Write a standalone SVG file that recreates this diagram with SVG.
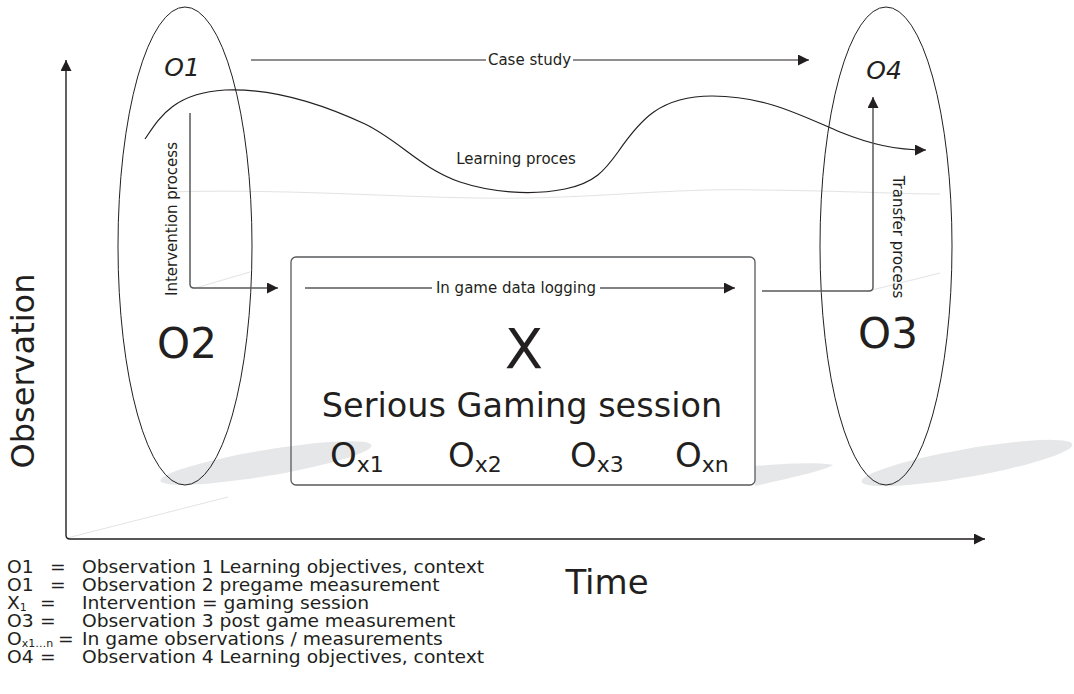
<svg xmlns="http://www.w3.org/2000/svg" width="1074" height="694" viewBox="0 0 1074 694">
<style>
text{font-family:"DejaVu Sans","Liberation Sans",sans-serif;fill:#231f20}
.lbl{font-size:15px}
.leg{font-size:17px}
.ell{fill:none;stroke:#231f20;stroke-width:1}
.shadow{fill:#e6e7e8}
.faint{fill:none;stroke:#e2e3e4;stroke-width:1}
.conn{fill:none;stroke:#231f20;stroke-width:1.2}
.gconn{fill:none;stroke:#58595b;stroke-width:1.5}
.axis{fill:none;stroke:#231f20;stroke-width:1.4}
</style>
<defs>
<marker id="ah" markerWidth="12" markerHeight="12" refX="11" refY="5.5" orient="auto-start-reverse" markerUnits="userSpaceOnUse"><path d="M0,0 L11,5.5 L0,11 Z" fill="#231f20"/></marker>
</defs>
<rect width="1074" height="694" fill="#fff"/>
<g id="shadows">
<ellipse class="shadow" cx="266" cy="463" rx="107" ry="13" transform="rotate(-9.5 266 463)"/>
<ellipse class="shadow" cx="967" cy="463" rx="107" ry="14" transform="rotate(-10 967 463)"/>
<path class="shadow" d="M755,466 C790,463 822,462 833,465 C826,470 790,478 755,486 Z"/>
<path class="faint" d="M67,538 L228,497"/>
<path class="faint" d="M192,289 L250,272"/>
<path class="faint" d="M868,291 L940,273"/>
<path class="faint" d="M167,192 C300,188 420,200 530,198 C620,196 680,188 760,190 C850,191 900,194 940,194"/>
</g>
<g id="axes">
<path class="axis" d="M66,60 L66,535 Q66,539 70,539 L985,539" marker-start="url(#ah)" marker-end="url(#ah)"/>
<text x="34" y="371" font-size="32" text-anchor="middle" transform="rotate(-90 34 371)">Observation</text>
<text x="607" y="594" font-size="34" text-anchor="middle">Time</text>
</g>
<g id="node-left">
<ellipse class="ell" cx="185" cy="246" rx="67" ry="239"/>
<text x="182" y="76" font-size="25" font-style="italic" text-anchor="middle">O1</text>
<text x="187" y="358" font-size="42" text-anchor="middle">O2</text>
</g>
<g id="node-right">
<ellipse class="ell" cx="886" cy="246" rx="66" ry="239"/>
<text x="884" y="79" font-size="25" font-style="italic" text-anchor="middle">O4</text>
<text x="888" y="348" font-size="42" text-anchor="middle">O3</text>
</g>
<g id="node-session">
<rect x="291" y="257" width="464" height="228" rx="5" fill="none" stroke="#58595b" stroke-width="1.3"/>
<text x="524" y="368" font-size="56" text-anchor="middle">X</text>
<text x="522" y="417" font-size="33.5" text-anchor="middle">Serious Gaming session</text>
<text x="330" y="467" font-size="34">O<tspan font-size="22" dy="5">x1</tspan></text>
<text x="448" y="467" font-size="34">O<tspan font-size="22" dy="5">x2</tspan></text>
<text x="570" y="467" font-size="34">O<tspan font-size="22" dy="5">x3</tspan></text>
<text x="675" y="467" font-size="34">O<tspan font-size="22" dy="5">xn</tspan></text>
</g>
<g id="connectors">
<path class="conn" d="M251,60 L486,60"/>
<path class="conn" d="M573,60 L809,60" marker-end="url(#ah)"/>
<text class="lbl" x="529.5" y="65" text-anchor="middle">Case study</text>
<path class="conn" d="M145,139 C158,120 172,93 225,90 C270,88 320,103 365,124 C400,141 420,168 460,182 C490,192 530,196 565,189 C595,183 605,170 618,152 C640,120 660,96 712,96 C765,96 800,115 840,132 C870,144 895,150 926,150" marker-end="url(#ah)"/>
<text class="lbl" x="516" y="164" text-anchor="middle">Learning proces</text>
<path class="gconn" d="M190,113 L190,284 Q190,288 194,288 L278,288" marker-end="url(#ah)"/>
<text class="lbl" x="177" y="219" text-anchor="middle" transform="rotate(-90 177 219)">Intervention process</text>
<path class="gconn" d="M762,291 L869,291 Q873,291 873,287 L873,97" marker-end="url(#ah)"/>
<text class="lbl" x="893" y="237" text-anchor="middle" transform="rotate(90 893 237)">Transfer process</text>
<path class="gconn" d="M305,288 L432,288"/>
<path class="gconn" d="M600,288 L735,288" marker-end="url(#ah)"/>
<text class="lbl" x="516" y="293" text-anchor="middle">In game data logging</text>
</g>
<g id="legend" transform="scale(1.1 1)">
<text class="leg" x="6.36" y="573">O1</text><text class="leg" x="45.45" y="573">=</text><text class="leg" x="74.55" y="573">Observation 1 Learning objectives, context</text>
<text class="leg" x="6.36" y="591">O1</text><text class="leg" x="45.45" y="591">=</text><text class="leg" x="74.55" y="591">Observation 2 pregame measurement</text>
<text class="leg" x="6.36" y="609">X<tspan font-size="10" dy="2">1</tspan></text><text class="leg" x="36.4" y="609">=</text><text class="leg" x="74.55" y="609">Intervention = gaming session</text>
<text class="leg" x="6.36" y="627">O3</text><text class="leg" x="36.4" y="627">=</text><text class="leg" x="74.55" y="627">Observation 3 post game measurement</text>
<text class="leg" x="6.36" y="645">O<tspan font-size="10" dy="2">x1…n</tspan></text><text class="leg" x="52.7" y="645">=</text><text class="leg" x="74.55" y="645">In game observations / measurements</text>
<text class="leg" x="6.36" y="663">O4</text><text class="leg" x="36.4" y="663">=</text><text class="leg" x="74.55" y="663">Observation 4 Learning objectives, context</text>
</g>
</svg>
